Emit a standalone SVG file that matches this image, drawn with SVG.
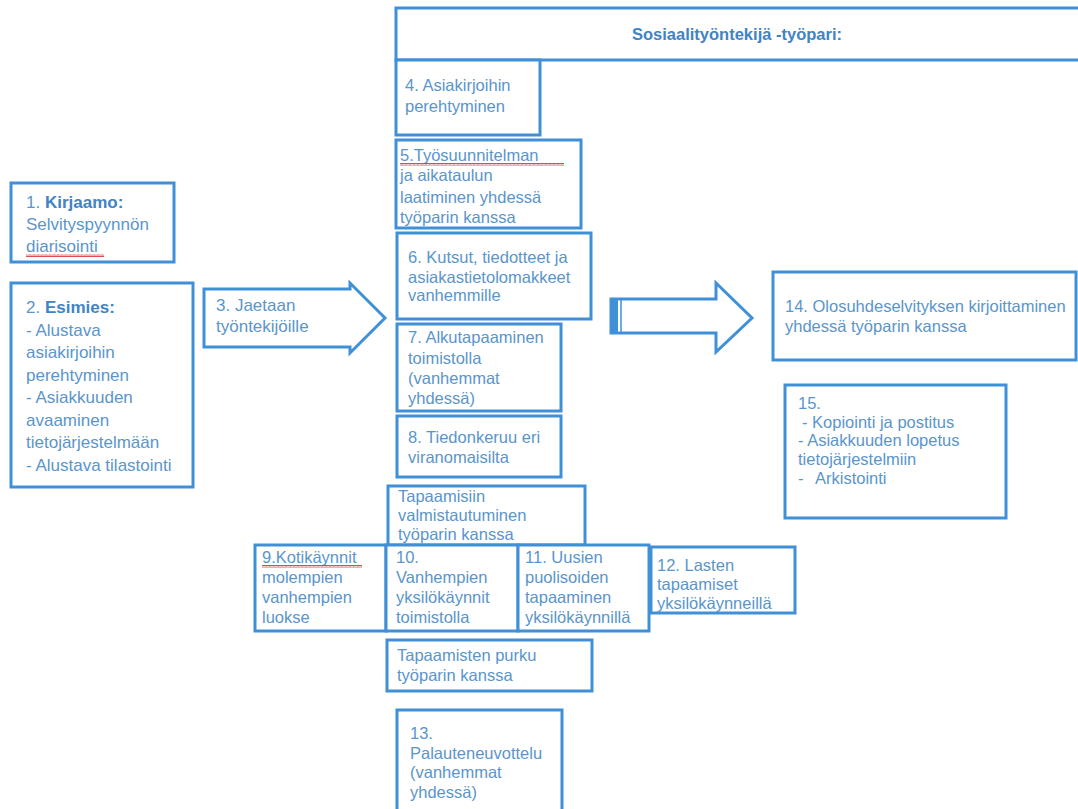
<svg xmlns="http://www.w3.org/2000/svg" width="1078" height="809" viewBox="0 0 1078 809">
<defs>
<pattern id="sq" width="4" height="3" patternUnits="userSpaceOnUse">
<path d="M0 2.5 L1 0.5 L2 2.5 L3 0.5 L4 2.5" fill="none" stroke="#d83a3a" stroke-width="0.9"/>
</pattern>
<style>
.b{fill:#ffffff;stroke:#4090d8;stroke-width:3}
.t{font-family:"Liberation Sans",Arial,sans-serif;font-size:16.5px;fill:#5a95cc}
.t17{font-size:17px}
.bd{font-weight:bold;fill:#4183c4}
.sq{fill:url(#sq)}
</style>
</defs>
<rect width="1078" height="809" fill="#ffffff"/>

<g id="connectors">
<polygon class="b" points="204,289 350,289 350,283 385,318 350,353 350,347 204,347"/>
<polygon class="b" points="611,299 716,299 716,283 752,318 716,352 716,333 611,333"/>
<rect x="611" y="299" width="7" height="34" fill="#4090d8"/>
<line x1="621" y1="299" x2="621" y2="333" stroke="#4090d8" stroke-width="1.5"/>
</g>

<g id="n3">
<text class="t t17" x="216" y="311">3. Jaetaan</text>
<text class="t t17" x="216" y="332">työntekijöille</text>
</g>

<g id="header">
<rect class="b" x="396" y="8" width="690" height="52"/>
<text class="t bd" x="632" y="40">Sosiaalityöntekijä -työpari:</text>
</g>

<g id="n1">
<rect class="b" x="11" y="183" width="163" height="79"/>
<text class="t t17" x="26" y="208">1. <tspan class="bd">Kirjaamo:</tspan></text>
<text class="t t17" x="26" y="230">Selvityspyynnön</text>
<text class="t t17" x="26" y="252">diarisointi</text>
<rect class="sq" x="26" y="254" width="78" height="3"/>
</g>

<g id="n2">
<rect class="b" x="11" y="283" width="182" height="204"/>
<text class="t t17" x="26" y="313">2. <tspan class="bd">Esimies:</tspan></text>
<text class="t t17" x="26" y="336">- Alustava</text>
<text class="t t17" x="26" y="358">asiakirjoihin</text>
<text class="t t17" x="26" y="381">perehtyminen</text>
<text class="t t17" x="26" y="403">- Asiakkuuden</text>
<text class="t t17" x="26" y="426">avaaminen</text>
<text class="t t17" x="26" y="448">tietojärjestelmään</text>
<text class="t t17" x="26" y="471">- Alustava tilastointi</text>
</g>

<g id="n4">
<rect class="b" x="396" y="60" width="144" height="75"/>
<text class="t" x="405" y="91">4. Asiakirjoihin</text>
<text class="t" x="405" y="112">perehtyminen</text>
</g>

<g id="n5">
<rect class="b" x="396" y="140" width="185" height="88"/>
<text class="t" x="400" y="161">5.Työsuunnitelman</text>
<rect class="sq" x="400" y="163" width="164" height="3"/>
<text class="t" x="400" y="181">ja aikataulun</text>
<text class="t" x="400" y="203">laatiminen yhdessä</text>
<text class="t" x="400" y="223">työparin kanssa</text>
</g>

<g id="n6">
<rect class="b" x="397" y="233" width="194" height="86"/>
<text class="t" x="408" y="263">6. Kutsut, tiedotteet ja</text>
<text class="t" x="408" y="283">asiakastietolomakkeet</text>
<text class="t" x="408" y="301">vanhemmille</text>
</g>

<g id="n7">
<rect class="b" x="397" y="324" width="164" height="87"/>
<text class="t" x="408" y="343">7. Alkutapaaminen</text>
<text class="t" x="408" y="364">toimistolla</text>
<text class="t" x="408" y="384">(vanhemmat</text>
<text class="t" x="408" y="404">yhdessä)</text>
</g>

<g id="n8">
<rect class="b" x="397" y="416" width="164" height="61"/>
<text class="t" x="408" y="443">8. Tiedonkeruu eri</text>
<text class="t" x="408" y="463">viranomaisilta</text>
</g>

<g id="prep">
<rect class="b" x="388" y="486" width="197" height="59"/>
<text class="t" x="398" y="502">Tapaamisiin</text>
<text class="t" x="398" y="521">valmistautuminen</text>
<text class="t" x="398" y="540">työparin kanssa</text>
</g>

<g id="n9">
<rect class="b" x="255" y="545" width="131" height="86"/>
<text class="t" x="262" y="563">9.Kotikäynnit</text>
<rect class="sq" x="262" y="565" width="100" height="3"/>
<text class="t" x="262" y="583">molempien</text>
<text class="t" x="262" y="603">vanhempien</text>
<text class="t" x="262" y="623">luokse</text>
</g>

<g id="n10">
<rect class="b" x="386" y="545" width="132" height="86"/>
<text class="t" x="396" y="563">10.</text>
<text class="t" x="396" y="583">Vanhempien</text>
<text class="t" x="396" y="603">yksilökäynnit</text>
<text class="t" x="396" y="623">toimistolla</text>
</g>

<g id="n11">
<rect class="b" x="518" y="545" width="131" height="86"/>
<text class="t" x="525" y="563">11. Uusien</text>
<text class="t" x="525" y="583">puolisoiden</text>
<text class="t" x="525" y="603">tapaaminen</text>
<text class="t" x="525" y="623">yksilökäynnillä</text>
</g>

<g id="n12">
<rect class="b" x="651" y="547" width="144" height="66"/>
<text class="t" x="657" y="571">12. Lasten</text>
<text class="t" x="657" y="590">tapaamiset</text>
<text class="t" x="657" y="609">yksilökäynneillä</text>
</g>

<g id="debrief">
<rect class="b" x="387" y="640" width="205" height="51"/>
<text class="t" x="397" y="661">Tapaamisten purku</text>
<text class="t" x="397" y="681">työparin kanssa</text>
</g>

<g id="n13">
<rect class="b" x="397" y="710" width="165" height="104"/>
<text class="t" x="410" y="739">13.</text>
<text class="t" x="410" y="759">Palauteneuvottelu</text>
<text class="t" x="410" y="778">(vanhemmat</text>
<text class="t" x="410" y="798">yhdessä)</text>
</g>

<g id="n14">
<rect class="b" x="773" y="272" width="303" height="88"/>
<text class="t" x="785" y="312">14. Olosuhdeselvityksen kirjoittaminen</text>
<text class="t" x="785" y="332">yhdessä työparin kanssa</text>
</g>

<g id="n15">
<rect class="b" x="785" y="385" width="221" height="133"/>
<text class="t" x="798" y="409">15.</text>
<text class="t" x="802" y="428">- Kopiointi ja postitus</text>
<text class="t" x="798" y="446">- Asiakkuuden lopetus</text>
<text class="t" x="798" y="465">tietojärjestelmiin</text>
<text class="t" x="798" y="484">-<tspan x="815">Arkistointi</tspan></text>
</g>
</svg>
